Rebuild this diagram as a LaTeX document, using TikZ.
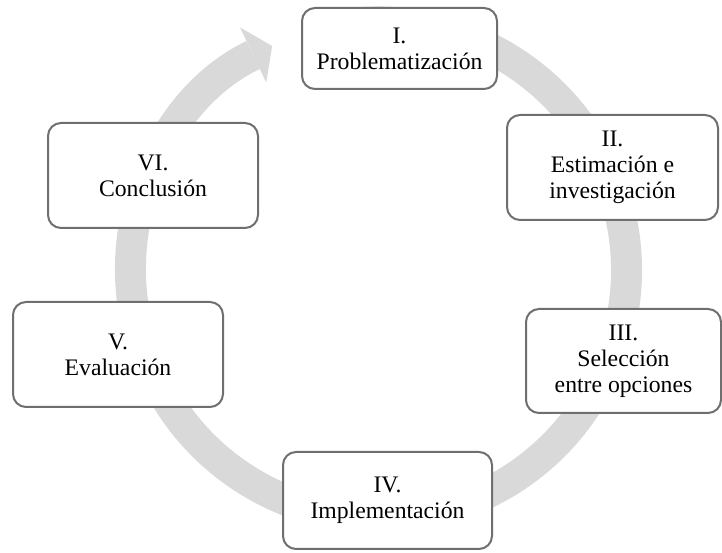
\documentclass[tikz,border=0pt]{standalone}
\usepackage{fontspec}
\setmainfont{Liberation Serif}
\usetikzlibrary{arrows.meta}
\definecolor{bandgray}{HTML}{D9D9D9}
\definecolor{boxgray}{HTML}{6F6F6F}
\begin{document}
\begin{tikzpicture}[x=1pt,y=1pt,
  stage/.style={draw=boxgray,line width=2pt,fill=white,rounded corners=13pt,
    inner sep=0pt,align=center,font=\fontsize{23.7}{26}\selectfont}]
\useasboundingbox (0,0) rectangle (722,553);
% the circular arrow behind the boxes
\coordinate (c) at (378.5,283);
\draw [bandgray,line width=31pt,-{Triangle[width=61pt,length=21pt,line width=0pt]}]
  (c) ++(100:248) arc[start angle=100,end angle=-244.6,radius=248];
% the six stages
\node[stage,minimum width=195pt,minimum height=81pt] (prob) at (399.5,504.5) {I.\\Problematización};
\node[stage,minimum width=211pt,minimum height=105pt] (estim) at (612.5,385.5) {II.\\Estimación e\\investigación};
\node[stage,minimum width=195pt,minimum height=104pt] (selec) at (623.5,192) {III.\\Selección\\entre opciones};
\node[stage,minimum width=209pt,minimum height=97pt] (impl) at (387.5,52.5) {IV.\\Implementación};
\node[stage,minimum width=210pt,minimum height=105pt] (eval) at (118,198.5) {V.\\Evaluación};
\node[stage,minimum width=210pt,minimum height=105pt] (concl) at (153,377.5) {VI.\\Conclusión};
\end{tikzpicture}
\end{document}
